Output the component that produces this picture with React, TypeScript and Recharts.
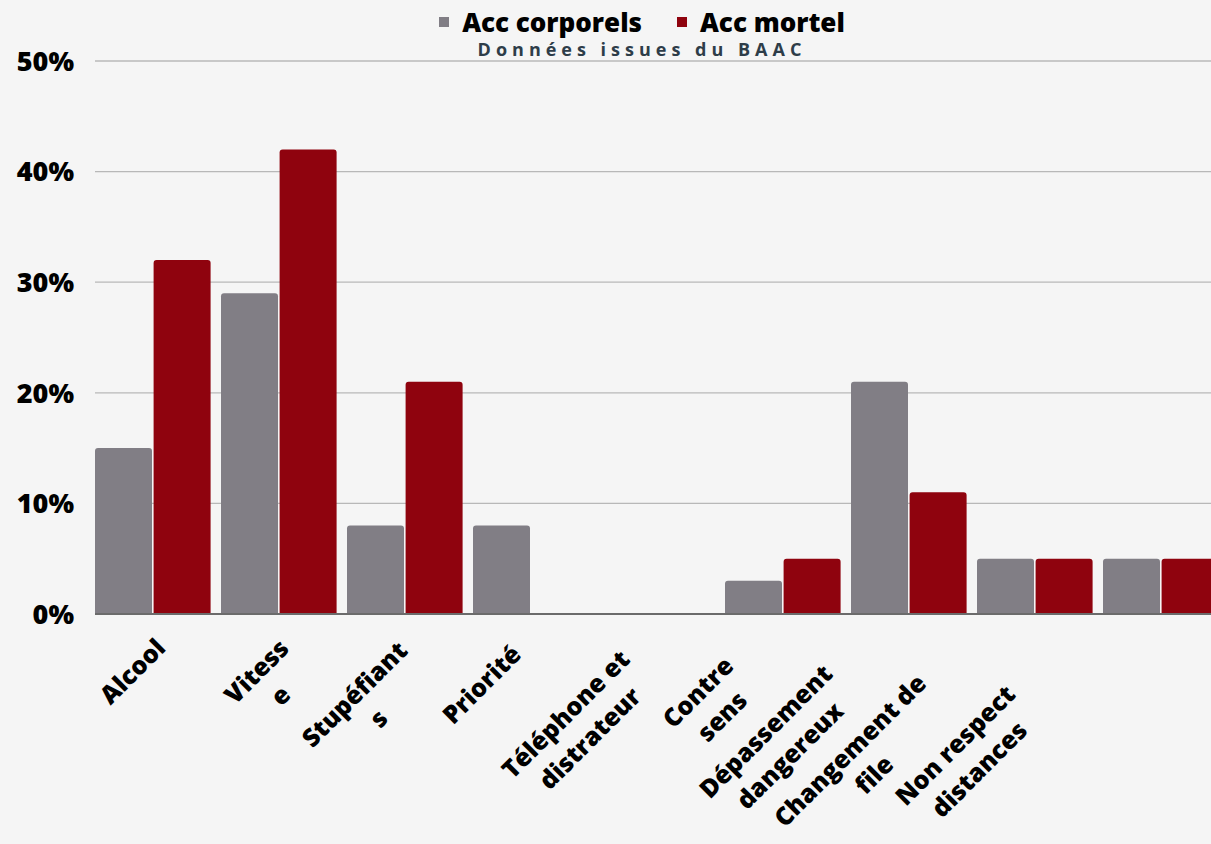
import { BarChart, Bar, XAxis, YAxis, CartesianGrid } from 'recharts'

// causes d'accidents, données BAAC
const categories = [
  'Alcool', 'Vitesse', 'Stupéfiants', 'Priorité', 'Téléphone et distrateur',
  'Contre sens', 'Dépassement dangereux', 'Changement de file', 'Non respect distances',
]
// wrapping as it appears under the axis
const tickLines = [
  ['Alcool'], ['Vitess', 'e'], ['Stupéfiant', 's'], ['Priorité'], ['Téléphone et', 'distrateur'],
  ['Contre', 'sens'], ['Dépassement', 'dangereux'], ['Changement de', 'file'], ['Non respect', 'distances'],
]
const accCorporels = [15, 29, 8, 8, 0, 3, 21, 5, 5]
const accMortel = [32, 42, 21, 0, 0, 5, 11, 5, 5]
const yTicks = [0, 10, 20, 30, 40, 50]
const seriesNames = ['Acc corporels', 'Acc mortel']
const seriesColors = ['#817e85', '#8f030e']
const subtitle = 'Données issues du BAAC'

const data = categories.map((name, i) => ({
  name,
  corporels: accCorporels[i],
  mortel: accMortel[i],
}))

const FONT = '"Open Sans", sans-serif'
const LABEL_SIZE = 25

let measureCtx: CanvasRenderingContext2D | null = null
function textWidth(s: string, size: number) {
  if (!measureCtx) measureCtx = document.createElement('canvas').getContext('2d')
  if (!measureCtx) return s.length * size * 0.6
  measureCtx.font = `800 ${size}px "Open Sans"`
  return measureCtx.measureText(s).width
}

const CategoryTick = ({ x, index }: any) => {
  const lines: string[] = tickLines[index] || []
  const lh = 34
  // the source packs the labels tighter towards the right, so the
  // label anchor slides left (and a bit down) as we go along the axis
  const k = (x - 152.5) / 126
  const ax = x + 1 - 2.47 * k * k
  const ay = 636 + 0.73 * k * k
  const w = Math.max(...lines.map((l) => textWidth(l, LABEL_SIZE)))
  return (
    <g transform={`translate(${ax}, ${ay}) rotate(-45)`}>
      {lines.map((t, i) => (
        <text
          key={i}
          x={-w / 2}
          y={19 + i * lh}
          textAnchor="middle"
          fontFamily={FONT}
          fontWeight={800}
          fontSize={LABEL_SIZE}
          fill="#000"
        >
          {t}
        </text>
      ))}
    </g>
  )
}

const PercentTick = ({ x, y, payload }: any) => (
  <text x={x} y={y} dy="0.36em" textAnchor="end" fontFamily={FONT} fontWeight={800} fontSize={27} fill="#000">
    {`${payload.value}%`}
  </text>
)

export default function App() {
  return (
    <div style={{ position: 'fixed', left: 0, top: 0, width: 1211, height: 844, overflow: 'hidden', background: '#f5f5f5' }}>
      <BarChart
        width={1240}
        height={844}
        data={data}
        margin={{ top: 61, right: 11, left: 0, bottom: 0 }}
        barCategoryGap={5.5}
        barGap={1.6}
      >
        <CartesianGrid vertical={false} stroke="#b8b8b8" strokeWidth={1.3} />
        <XAxis
          dataKey="name"
          interval={0}
          height={230}
          tickLine={false}
          axisLine={{ stroke: '#6b6b6b', strokeWidth: 2 }}
          padding={{ left: -5.5, right: 5.5 }}
          tick={<CategoryTick />}
        />
        <YAxis
          width={95}
          domain={[0, 50]}
          ticks={yTicks}
          axisLine={false}
          tickLine={false}
          tickSize={0}
          tickMargin={21}
          tick={<PercentTick />}
        />
        <Bar dataKey="corporels" name={seriesNames[0]} fill={seriesColors[0]} radius={[3, 3, 0, 0]} isAnimationActive={false} />
        <Bar dataKey="mortel" name={seriesNames[1]} fill={seriesColors[1]} radius={[3, 3, 0, 0]} isAnimationActive={false} />
      </BarChart>

      <div style={{ position: 'absolute', top: 9, left: 0, width: 1284, display: 'flex', justifyContent: 'center', alignItems: 'center', fontFamily: FONT }}>
        {seriesNames.map((n, i) => (
          <div key={n} style={{ display: 'flex', alignItems: 'center', marginLeft: i ? 35 : 0 }}>
            <span style={{ width: 10, height: 10, background: seriesColors[i], display: 'inline-block', marginRight: 13 }} />
            <span style={{ fontSize: 26, lineHeight: '26px', fontWeight: 800, color: '#000' }}>{n}</span>
          </div>
        ))}
      </div>
      <div style={{ position: 'absolute', top: 40, left: 0, width: 1284, textAlign: 'center', fontFamily: FONT, fontSize: 18, lineHeight: '18px', fontWeight: 700, letterSpacing: 5, color: '#2e3d49' }}>
        {subtitle}
      </div>
    </div>
  )
}
